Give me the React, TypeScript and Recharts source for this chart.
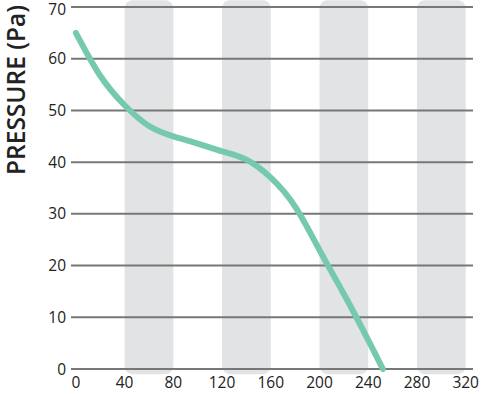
import React from 'react';
import { LineChart, Line, XAxis, YAxis, ReferenceArea, ReferenceLine } from 'recharts';

const flowValues = [0, 20, 40, 60, 80, 100, 120, 140, 160, 180, 200, 220, 240, 252];
const pressureValues = [65, 56.7, 51, 47, 45, 43.6, 42.1, 40.5, 37, 31.4, 23, 14.5, 5.6, 0];
const xTicks = [0, 40, 80, 120, 160, 200, 240, 280, 320];
const yTicks = [0, 10, 20, 30, 40, 50, 60, 70];
const bands: [number, number][] = [[40, 80], [120, 160], [200, 240], [280, 320]];

const data = flowValues.map((x, i) => ({ x, y: pressureValues[i] }));

const FONT = '"Open Sans", "Noto Sans", sans-serif';

const BandShape = (props: any) => {
  const { x, y, width, height } = props;
  return <rect x={x} y={y} width={width} height={height} rx={8} ry={8} fill="#e2e3e5" />;
};

export default function App() {
  return (
    <div style={{ position: 'absolute', left: 0, top: 0, width: 481, height: 394, background: '#fff' }}>
      <LineChart width={481} height={394} data={data} margin={{ top: 7, right: 8, bottom: 0, left: 0 }}>
        <XAxis
          dataKey="x"
          type="number"
          domain={[-4, 326]}
          ticks={xTicks}
          allowDataOverflow
          axisLine={false}
          tickLine={false}
          height={25}
          tickSize={6}
          tickMargin={2}
          tick={{ fill: '#222', fontSize: 15.5, fontFamily: FONT }}
        />
        <YAxis
          type="number"
          domain={[0, 70]}
          ticks={yTicks}
          axisLine={false}
          tickLine={false}
          width={71}
          tickSize={0}
          tickMargin={5}
          tick={{ fill: '#222', fontSize: 15.5, fontFamily: FONT }}
          label={{
            content: () => (
              <text
                x={15}
                y={90}
                transform="rotate(-90 15 90)"
                textAnchor="middle"
                dominantBaseline="central"
                fill="#222"
                fontSize={24.5}
                fontFamily={FONT}
                fontWeight={600}
              >
                PRESSURE (Pa)
              </text>
            ),
          }}
        />
        {bands.map(([a, b]) => (
          <ReferenceArea key={a} x1={a} x2={b} y1={-1} y2={71.3} ifOverflow="visible" shape={BandShape} />
        ))}
        {yTicks.map((t) => (
          <ReferenceLine key={t} y={t} stroke="#777" strokeWidth={2} />
        ))}
        <Line
          type="natural"
          dataKey="y"
          stroke="#74c9af"
          strokeWidth={6}
          strokeLinecap="round"
          dot={false}
          activeDot={false}
          isAnimationActive={false}
        />
      </LineChart>
    </div>
  );
}
